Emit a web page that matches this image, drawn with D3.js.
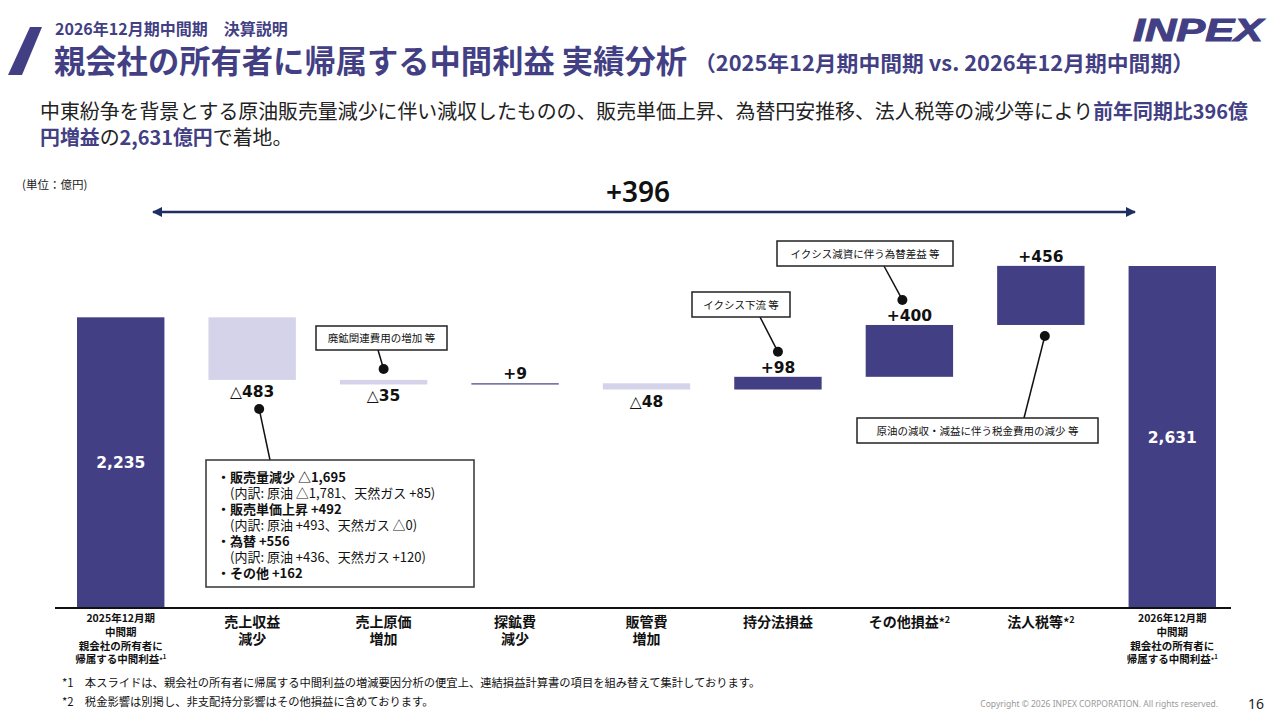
<!DOCTYPE html>
<html lang="ja">
<head>
<meta charset="UTF-8">
<title>親会社の所有者に帰属する中間利益 実績分析</title>
<script src="https://d3js.org/d3.v7.min.js"></script>
<style>
  html, body { margin: 0; padding: 0; background: #fff; }
  svg { display: block; }
</style>
</head>
<body>
<svg id="chart"></svg>
<script>
// ---- data (億円) ----
var categories = [
  "2025年12月期|中間期|親会社の所有者に|帰属する中間利益*1",
  "売上収益|減少", "売上原価|増加", "探鉱費|減少", "販管費|増加",
  "持分法損益", "その他損益*2", "法人税等*2",
  "2026年12月期|中間期|親会社の所有者に|帰属する中間利益*1"
];
var amounts = [2235, -483, -35, 9, -48, 98, 400, 456, 2631];
var kinds = ["total", "delta", "delta", "delta", "delta", "delta", "delta", "delta", "total"];
var valueLabels = ["2,235", "△483", "△35", "+9", "△48", "+98", "+400", "+456", "2,631"];
var totalChange = "+396";

var breakdownLines = [
  ["b", "・販売量減少 △1,695"],
  ["n", "　(内訳: 原油 △1,781、天然ガス +85)"],
  ["b", "・販売単価上昇 +492"],
  ["n", "　(内訳: 原油 +493、天然ガス △0)"],
  ["b", "・為替 +556"],
  ["n", "　(内訳: 原油 +436、天然ガス +120)"],
  ["b", "・その他 +162"]
];

var width = 1280, height = 720;
var dark = "#433F84", light = "#D5D3E9";
var jp = "'Noto Sans CJK JP', 'Noto Sans', sans-serif";
var num = "'DejaVu Sans', 'Noto Sans CJK JP', sans-serif";

var svg = d3.select("#chart").attr("width", width).attr("height", height);

// ---- header ----
svg.append("polygon")
    .attr("points", "30,27 42,27 22,75 8,75")
    .attr("fill", dark);

svg.append("text")
    .attr("x", 55).attr("y", 35)
    .attr("font-family", jp).attr("font-size", 16).attr("font-weight", 700)
    .attr("fill", dark)
    .text("2026年12月期中間期　決算説明");

svg.append("text")
    .attr("x", 54).attr("y", 73)
    .attr("font-family", jp).attr("font-weight", 700).attr("fill", dark)
    .attr("font-size", 31.3)
    .text("親会社の所有者に帰属する中間利益 実績分析");
svg.append("text")
    .attr("x", 694).attr("y", 71)
    .attr("font-family", jp).attr("font-weight", 700).attr("fill", dark)
    .attr("font-size", 21)
    .attr("textLength", 500).attr("lengthAdjust", "spacingAndGlyphs")
    .text("（2025年12月期中間期 vs. 2026年12月期中間期）");

svg.append("text")
    .attr("x", 1133).attr("y", 41)
    .attr("font-family", "'Liberation Sans', Arial, sans-serif")
    .attr("font-size", 31).attr("font-weight", 700).attr("font-style", "italic")
    .attr("textLength", 130).attr("lengthAdjust", "spacingAndGlyphs")
    .attr("fill", dark).attr("stroke", dark).attr("stroke-width", 1)
    .text("INPEX");

// summary text
var s1 = svg.append("text").attr("x", 40).attr("y", 119)
    .attr("font-family", jp).attr("font-size", 19.9).attr("fill", "#222");
s1.append("tspan").text("中東紛争を背景とする原油販売量減少に伴い減収したものの、販売単価上昇、為替円安推移、法人税等の減少等により");
s1.append("tspan").attr("font-weight", 700).attr("fill", dark).text("前年同期比396億");
var s2 = svg.append("text").attr("x", 40).attr("y", 145)
    .attr("font-family", jp).attr("font-size", 19.9).attr("fill", "#222");
s2.append("tspan").attr("font-weight", 700).attr("fill", dark).text("円増益");
s2.append("tspan").text("の");
s2.append("tspan").attr("font-weight", 700).attr("fill", dark).text("2,631億円");
s2.append("tspan").text("で着地。");

svg.append("text")
    .attr("x", 22).attr("y", 189)
    .attr("font-family", jp).attr("font-size", 11.5).attr("fill", "#222")
    .text("(単位：億円)");

// ---- scales ----
var baseY = 607;
var x = d3.scaleBand()
    .domain(d3.range(categories.length))
    .range([55, 1238])
    .paddingInner(0.335)
    .paddingOuter(0.1675);

var y = d3.scaleLinear()
    .domain([0, 2631])
    .range([baseY, 266]);

// waterfall steps
var running = 0;
var steps = amounts.map(function (v, i) {
  var s;
  if (kinds[i] === "total") {
    s = { i: i, start: 0, end: v };
    running = v;
  } else {
    s = { i: i, start: running, end: running + v };
    running += v;
  }
  s.v = v;
  s.kind = kinds[i];
  return s;
});

svg.selectAll("rect.bar")
    .data(steps)
    .enter()
    .append("rect")
    .attr("class", "bar")
    .attr("x", function (d) { return x(d.i); })
    .attr("width", x.bandwidth())
    .attr("y", function (d) { return y(Math.max(d.start, d.end)); })
    .attr("height", function (d) { return Math.max(1.2, Math.abs(y(d.start) - y(d.end))); })
    .attr("fill", function (d) { return (d.kind === "delta" && d.v < 0) ? light : dark; });

// value labels
svg.selectAll("text.val")
    .data(steps)
    .enter()
    .append("text")
    .attr("class", "val")
    .attr("x", function (d) { return x(d.i) + x.bandwidth() / 2; })
    .attr("y", function (d) {
      if (d.kind === "total") return (y(d.end) + baseY) / 2 + 6;
      if (d.v < 0) return y(Math.min(d.start, d.end)) + 17;
      return y(Math.max(d.start, d.end)) - 4;
    })
    .attr("text-anchor", "middle")
    .attr("font-family", num).attr("font-size", 15.5).attr("font-weight", 700)
    .attr("fill", function (d) { return d.kind === "total" ? "#fff" : "#111"; })
    .text(function (d, i) { return valueLabels[i]; });

// baseline
svg.append("line")
    .attr("x1", 55).attr("x2", 1231)
    .attr("y1", baseY + 1).attr("y2", baseY + 1)
    .attr("stroke", "#111").attr("stroke-width", 2);

// category labels
categories.forEach(function (c, i) {
  var lines = c.split("|");
  var cx = x(i) + x.bandwidth() / 2;
  var small = lines.length > 2;
  var t = svg.append("text")
      .attr("x", cx)
      .attr("text-anchor", "middle")
      .attr("font-family", jp).attr("font-weight", 700)
      .attr("font-size", small ? 10.5 : 14)
      .attr("fill", "#111");
  lines.forEach(function (ln, k) {
    var ts = t.append("tspan").attr("x", cx)
        .attr("y", small ? 622 + k * 13.8 : 627 + k * 17);
    var m = ln.match(/^(.*)\*(\d)$/);
    if (m) {
      ts.append("tspan").text(m[1]);
      ts.append("tspan").attr("font-size", small ? 7 : 12).text("*");
      ts.append("tspan").attr("font-size", small ? 6 : 9).attr("dy", -4).text(m[2]);
    } else {
      ts.text(ln);
    }
  });
});

// ---- total change arrow ----
var defs = svg.append("defs");
defs.append("marker").attr("id", "ah")
    .attr("viewBox", "0 0 10 10").attr("refX", 9).attr("refY", 5)
    .attr("markerWidth", 4).attr("markerHeight", 4)
    .attr("orient", "auto-start-reverse")
    .append("path").attr("d", "M0,0 L10,5 L0,10 Z").attr("fill", "#1F2F63");
svg.append("line")
    .attr("x1", 153).attr("x2", 1135)
    .attr("y1", 212).attr("y2", 212)
    .attr("stroke", "#1F2F63").attr("stroke-width", 2.5)
    .attr("marker-start", "url(#ah)").attr("marker-end", "url(#ah)");
svg.append("text")
    .attr("x", 638).attr("y", 202)
    .attr("text-anchor", "middle")
    .attr("font-family", "'Noto Sans', sans-serif").attr("font-size", 28).attr("font-weight", 600)
    .attr("fill", "#111")
    .text(totalChange);

// ---- callouts ----
function barCx(i) { return x(i) + x.bandwidth() / 2; }
function barTop(i) { return y(Math.max(steps[i].start, steps[i].end)); }
function barBot(i) { return y(Math.min(steps[i].start, steps[i].end)); }

var callouts = [
  { text: "廃鉱関連費用の増加 等", dot: [barCx(2), barTop(2) - 11], box: [316, 326, 131, 24], join: [378, 350] },
  { text: "イクシス下流 等", dot: [barCx(5), barTop(5) - 25], box: [692, 292, 98, 25], join: [760, 317] },
  { text: "イクシス減資に伴う為替差益 等", dot: [barCx(6) - 7, barTop(6) - 25], box: [777, 241, 176, 25], join: [884, 266] },
  { text: "原油の減収・減益に伴う税金費用の減少 等", dot: [barCx(7) + 4, barBot(7) + 11], box: [857, 418, 241, 25], join: [1024, 418] }
];

callouts.forEach(function (c) {
  svg.append("line")
      .attr("x1", c.join[0]).attr("y1", c.join[1])
      .attr("x2", c.dot[0]).attr("y2", c.dot[1])
      .attr("stroke", "#111").attr("stroke-width", 1.5);
  svg.append("circle").attr("cx", c.dot[0]).attr("cy", c.dot[1]).attr("r", 5).attr("fill", "#111");
  svg.append("rect")
      .attr("x", c.box[0]).attr("y", c.box[1])
      .attr("width", c.box[2]).attr("height", c.box[3])
      .attr("fill", "#fff").attr("stroke", "#222").attr("stroke-width", 1.5);
  svg.append("text")
      .attr("x", c.box[0] + c.box[2] / 2).attr("y", c.box[1] + c.box[3] / 2 + 4)
      .attr("text-anchor", "middle")
      .attr("font-family", jp).attr("font-size", 10.5).attr("fill", "#111")
      .text(c.text);
});

// breakdown box for 売上収益
var bdot = [barCx(1) + 7, barBot(1) + 29];
svg.append("line")
    .attr("x1", bdot[0]).attr("y1", bdot[1])
    .attr("x2", 270).attr("y2", 460)
    .attr("stroke", "#111").attr("stroke-width", 1.5);
svg.append("circle").attr("cx", bdot[0]).attr("cy", bdot[1]).attr("r", 5).attr("fill", "#111");
svg.append("rect")
    .attr("x", 206).attr("y", 460).attr("width", 268).attr("height", 127)
    .attr("fill", "#fff").attr("stroke", "#333").attr("stroke-width", 1.5);
var bd = svg.append("text")
    .attr("x", 217).attr("y", 482)
    .attr("font-family", jp).attr("font-size", 13)
    .attr("fill", "#111");
breakdownLines.forEach(function (ln, k) {
  bd.append("tspan")
      .attr("x", 217).attr("y", 482 + k * 16)
      .attr("font-weight", ln[0] === "b" ? 700 : 400)
      .text(ln[1]);
});

// ---- footer ----
svg.append("text").attr("x", 62).attr("y", 687)
    .attr("font-family", jp).attr("font-size", 11.3).attr("fill", "#111")
    .text("*1　本スライドは、親会社の所有者に帰属する中間利益の増減要因分析の便宜上、連結損益計算書の項目を組み替えて集計しております。");
svg.append("text").attr("x", 62).attr("y", 706)
    .attr("font-family", jp).attr("font-size", 11.3).attr("fill", "#111")
    .text("*2　税金影響は別掲し、非支配持分影響はその他損益に含めております。");

svg.append("text").attr("x", 1218).attr("y", 707)
    .attr("text-anchor", "end")
    .attr("font-family", "'Noto Sans', sans-serif").attr("font-size", 8.5).attr("fill", "#999")
    .text("Copyright © 2026 INPEX CORPORATION. All rights reserved.");
svg.append("text").attr("x", 1264).attr("y", 709)
    .attr("text-anchor", "end")
    .attr("font-family", "'Noto Sans', sans-serif").attr("font-size", 14).attr("fill", "#222")
    .text("16");
</script>
</body>
</html>
